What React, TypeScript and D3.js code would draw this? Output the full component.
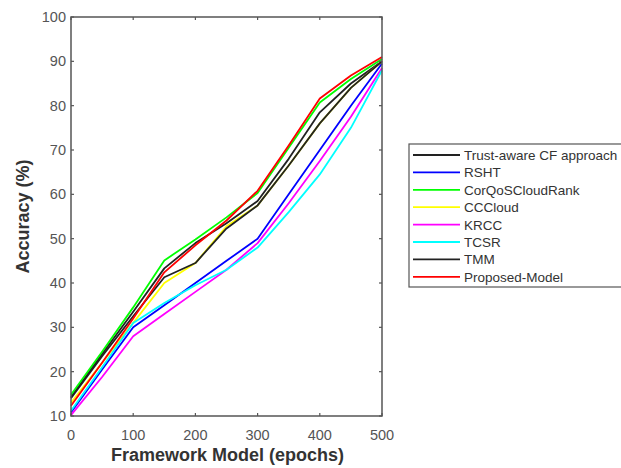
import React, { useEffect, useRef } from 'react';
import * as d3 from 'd3';

const epochs = [0, 50, 100, 150, 200, 250, 300, 350, 400, 450, 500];

const seriesNames = [
  'Trust-aware CF approach',
  'RSHT',
  'CorQoSCloudRank',
  'CCCloud',
  'KRCC',
  'TCSR',
  'TMM',
  'Proposed-Model',
];
const seriesColors = ['#222222', '#0000ff', '#00ff00', '#ffff00', '#ff00ff', '#00ffff', '#222222', '#ff0000'];

const trustAware = [14.3, 24, 33.5, 43.3, 49, 53.5, 58.5, 68, 78.5, 85, 90];
const rsht = [10.8, 20.5, 30, 35, 40, 45, 50, 60, 70, 80, 89.5];
const corQoS = [14.8, 24.5, 34.5, 45.1, 49.8, 54.8, 60.3, 70.5, 80.7, 86, 90.5];
const ccCloud = [13, 22, 31, 40, 44.5, 52.8, 57.5, 66.5, 76, 84, 90];
const krcc = [10.2, 18.8, 28, 33, 38, 43, 49, 58, 67.5, 77.5, 88.5];
const tcsr = [11.2, 21, 31, 35.5, 39.5, 43, 48, 56, 64.5, 75, 88];
const tmm = [14, 23.5, 32.5, 41.3, 44.5, 52.3, 57.5, 66.5, 76, 84, 90];
const proposed = [12.3, 22, 32, 42.4, 48.5, 54.1, 60.8, 71, 81.6, 86.8, 91];

const allSeries = [trustAware, rsht, corQoS, ccCloud, krcc, tcsr, tmm, proposed];

const xTicks = [0, 100, 200, 300, 400, 500];
const yTicks = [10, 20, 30, 40, 50, 60, 70, 80, 90, 100];

const App = () => {
  const ref = useRef<SVGSVGElement | null>(null);

  useEffect(() => {
    if (!ref.current) return;
    const svg = d3.select(ref.current);
    svg.selectAll('*').remove();

    const left = 71, right = 382, top = 17, bottom = 416;
    const x = d3.scaleLinear().domain([0, 500]).range([left, right]);
    const y = d3.scaleLinear().domain([10, 100]).range([bottom, top]);
    const axisColor = '#555';
    const font = 'Liberation Sans, Arial, sans-serif';

    // lines
    const line = d3.line<number>()
      .x((_, i) => x(epochs[i]))
      .y(d => y(d));
    allSeries.forEach((s, i) => {
      svg.append('path')
        .attr('d', line(s))
        .attr('fill', 'none')
        .attr('stroke', seriesColors[i])
        .attr('stroke-width', 1.8)
        .attr('stroke-linejoin', 'round');
    });

    // box
    svg.append('rect')
      .attr('x', left).attr('y', top)
      .attr('width', right - left).attr('height', bottom - top)
      .attr('fill', 'none').attr('stroke', axisColor).attr('stroke-width', 1.5);

    const tickLen = 3;
    xTicks.forEach(t => {
      svg.append('line').attr('x1', x(t)).attr('x2', x(t)).attr('y1', bottom).attr('y2', bottom - tickLen)
        .attr('stroke', axisColor).attr('stroke-width', 1.2);
      svg.append('line').attr('x1', x(t)).attr('x2', x(t)).attr('y1', top).attr('y2', top + tickLen)
        .attr('stroke', axisColor).attr('stroke-width', 1.2);
      svg.append('text').attr('x', x(t)).attr('y', bottom + 24)
        .attr('text-anchor', 'middle').attr('font-family', font).attr('font-size', 14.5)
        .attr('fill', '#555').text(t);
    });
    yTicks.forEach(t => {
      svg.append('line').attr('x1', left).attr('x2', left + tickLen).attr('y1', y(t)).attr('y2', y(t))
        .attr('stroke', axisColor).attr('stroke-width', 1.2);
      svg.append('line').attr('x1', right).attr('x2', right - tickLen).attr('y1', y(t)).attr('y2', y(t))
        .attr('stroke', axisColor).attr('stroke-width', 1.2);
      svg.append('text').attr('x', left - 5).attr('y', y(t) + 5)
        .attr('text-anchor', 'end').attr('font-family', font).attr('font-size', 14.5)
        .attr('fill', '#555').text(t);
    });

    svg.append('text')
      .attr('x', (left + right) / 2 + 1).attr('y', 461)
      .attr('text-anchor', 'middle').attr('font-family', font).attr('font-size', 18)
      .attr('font-weight', 'bold').attr('fill', '#333').text('Framework Model (epochs)');
    svg.append('text')
      .attr('transform', `translate(29, ${(top + bottom) / 2}) rotate(-90)`)
      .attr('text-anchor', 'middle').attr('font-family', font).attr('font-size', 18)
      .attr('font-weight', 'bold').attr('fill', '#333').text('Accuracy (%)');

    // legend
    const lx = 409, ly = 144;
    svg.append('rect').attr('x', lx).attr('y', ly).attr('width', 240).attr('height', 143)
      .attr('fill', 'white').attr('stroke', axisColor).attr('stroke-width', 1.2);
    seriesNames.forEach((name, i) => {
      const ry = ly + 11 + i * 17.4;
      svg.append('line').attr('x1', lx + 4).attr('x2', lx + 51).attr('y1', ry).attr('y2', ry)
        .attr('stroke', seriesColors[i]).attr('stroke-width', 1.8);
      svg.append('text').attr('x', lx + 55).attr('y', ry + 5)
        .attr('font-family', font).attr('font-size', 13.5).attr('fill', '#333').text(name);
    });
  }, []);

  return (
    <svg ref={ref} width={621} height={468}
      style={{ position: 'absolute', left: 0, top: 0, background: 'white' }} />
  );
};

export default App;
